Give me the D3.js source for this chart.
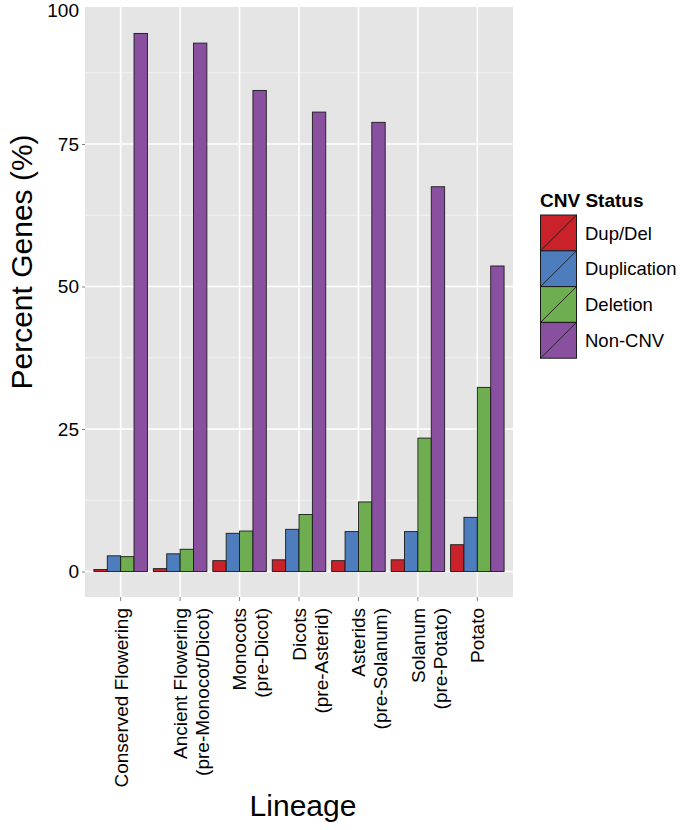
<!DOCTYPE html>
<html>
<head>
<meta charset="utf-8">
<script src="https://cdn.jsdelivr.net/npm/d3@7"></script>
<style>
  html, body { margin: 0; padding: 0; background: #fff; }
  svg { display: block; font-family: "Liberation Sans", Arial, Helvetica, sans-serif; }
</style>
</head>
<body>
<svg id="chart" width="681" height="830"></svg>
<script>
// ---- data ----
const categories = [
  "Conserved Flowering",
  "Ancient Flowering (pre-Monocot/Dicot)",
  "Monocots (pre-Dicot)",
  "Dicots (pre-Asterid)",
  "Asterids (pre-Solanum)",
  "Solanum (pre-Potato)",
  "Potato"
];
const categoryLines = [
  ["Conserved Flowering"],
  ["Ancient Flowering", "(pre-Monocot/Dicot)"],
  ["Monocots", "(pre-Dicot)"],
  ["Dicots", "(pre-Asterid)"],
  ["Asterids", "(pre-Solanum)"],
  ["Solanum", "(pre-Potato)"],
  ["Potato"]
];
const seriesNames = ["Dup/Del", "Duplication", "Deletion", "Non-CNV"];
const dupDel      = [0.35, 0.5, 1.9, 2.05, 1.9, 2.05, 4.7];
const duplication = [2.75, 3.1, 6.7, 7.4, 7.0, 7.0, 9.5];
const deletion    = [2.6, 3.9, 7.1, 10.0, 12.2, 23.4, 32.3];
const nonCNV      = [94.4, 92.7, 84.4, 80.6, 78.8, 67.5, 53.6];
const seriesValues = [dupDel, duplication, deletion, nonCNV];
const seriesColors = ["#C9222A", "#4E7DBD", "#6EAE50", "#8A50A0"];
const yTickValues = [0, 25, 50, 75, 100];
const yMinorValues = [12.5, 37.5, 62.5, 87.5];

// ---- layout ----
const svg = d3.select("#chart");
const panel = { left: 85, right: 513, top: 7, bottom: 597 };

const x = d3.scaleBand().domain(categories).range([panel.left, panel.right])
  .paddingInner(0).paddingOuter(0.1);
const xs = d3.scaleBand().domain(seriesNames)
  .range([-0.45 * x.bandwidth(), 0.45 * x.bandwidth()]).padding(0);
const y = d3.scaleLinear().domain([0, 100]).range([571.5, 1.5]);
const color = d3.scaleOrdinal().domain(seriesNames).range(seriesColors);

// panel background
svg.append("rect")
  .attr("x", panel.left).attr("y", panel.top)
  .attr("width", panel.right - panel.left).attr("height", panel.bottom - panel.top)
  .attr("fill", "#E5E5E5");

// minor gridlines
svg.append("g").selectAll("line").data(yMinorValues).join("line")
  .attr("x1", panel.left).attr("x2", panel.right)
  .attr("y1", d => y(d)).attr("y2", d => y(d))
  .attr("stroke", "#F2F2F2").attr("stroke-width", 1);

// major gridlines
svg.append("g").selectAll("line").data(yTickValues.filter(v => y(v) > panel.top)).join("line")
  .attr("x1", panel.left).attr("x2", panel.right)
  .attr("y1", d => y(d)).attr("y2", d => y(d))
  .attr("stroke", "#FFFFFF").attr("stroke-width", 1.6);
svg.append("g").selectAll("line").data(categories).join("line")
  .attr("x1", d => x(d) + x.bandwidth() / 2).attr("x2", d => x(d) + x.bandwidth() / 2)
  .attr("y1", panel.top).attr("y2", panel.bottom)
  .attr("stroke", "#FFFFFF").attr("stroke-width", 1.6);

// bars
const rows = [];
categories.forEach((c, i) => {
  seriesNames.forEach((s, j) => rows.push({ cat: c, series: s, value: seriesValues[j][i] }));
});
svg.append("g").selectAll("rect").data(rows).join("rect")
  .attr("x", d => x(d.cat) + x.bandwidth() / 2 + xs(d.series))
  .attr("width", xs.bandwidth())
  .attr("y", d => y(d.value))
  .attr("height", d => y(0) - y(d.value))
  .attr("fill", d => color(d.series))
  .attr("stroke", "#1a1a1a").attr("stroke-width", 0.9);

// y axis
const yAxis = d3.axisLeft(y).tickValues(yTickValues).tickSize(3).tickPadding(3)
  .tickFormat(d3.format("d"));
const gy = svg.append("g").attr("transform", `translate(${panel.left},0)`).call(yAxis);
gy.select(".domain").remove();
gy.selectAll(".tick line").attr("stroke", "#7f7f7f").attr("stroke-width", 1);
gy.selectAll(".tick text").attr("font-size", 19).attr("fill", "#000")
  .attr("font-family", "Liberation Sans, Arial, sans-serif");
gy.selectAll(".tick").filter(d => d === 100).each(function () {
  const t = d3.select(this);
  t.select("line").remove();
  t.attr("transform", `translate(0,${y(100) + 9.5})`);
});

// x axis
const xAxis = d3.axisBottom(x).tickSize(4).tickFormat("");
const gx = svg.append("g").attr("transform", `translate(0,${panel.bottom})`).call(xAxis);
gx.select(".domain").remove();
gx.selectAll(".tick line").attr("stroke", "#7f7f7f").attr("stroke-width", 1);

// x tick labels (rotated, multi-line)
const xl = svg.append("g");
categories.forEach((c, i) => {
  const cx = x(c) + x.bandwidth() / 2;
  const t = xl.append("text")
    .attr("transform", `translate(${cx},608) rotate(-90)`)
    .attr("text-anchor", "end")
    .attr("font-size", 19).attr("fill", "#000");
  categoryLines[i].forEach((line, k) => {
    t.append("tspan").attr("x", 0).attr("dy", k === 0 ? "0.36em" : "1.16em").text(line);
  });
});

// axis titles
svg.append("text")
  .attr("transform", "translate(32,262) rotate(-90)")
  .attr("text-anchor", "middle").attr("font-size", 30).attr("fill", "#000")
  .text("Percent Genes (%)");
svg.append("text")
  .attr("x", 303).attr("y", 816)
  .attr("text-anchor", "middle").attr("font-size", 30).attr("fill", "#000")
  .text("Lineage");

// legend
const lg = svg.append("g").attr("transform", "translate(540,0)");
lg.append("text").attr("x", 0).attr("y", 207)
  .attr("font-size", 19).attr("font-weight", "bold").attr("fill", "#000")
  .text("CNV Status");
const keyH = 35.8, keyW = 36, keyTop = 215;
seriesNames.forEach((s, j) => {
  const ky = keyTop + j * keyH;
  lg.append("rect").attr("x", 0.5).attr("y", ky).attr("width", keyW).attr("height", keyH)
    .attr("fill", color(s)).attr("stroke", "#1a1a1a").attr("stroke-width", 1);
  lg.append("line").attr("x1", 0.5).attr("y1", ky + keyH).attr("x2", keyW + 0.5).attr("y2", ky)
    .attr("stroke", "#1a1a1a").attr("stroke-width", 0.9);
  lg.append("text").attr("x", 45).attr("y", ky + keyH / 2).attr("dy", "0.36em")
    .attr("font-size", 18.5).attr("fill", "#000").text(s);
});
</script>
</body>
</html>
